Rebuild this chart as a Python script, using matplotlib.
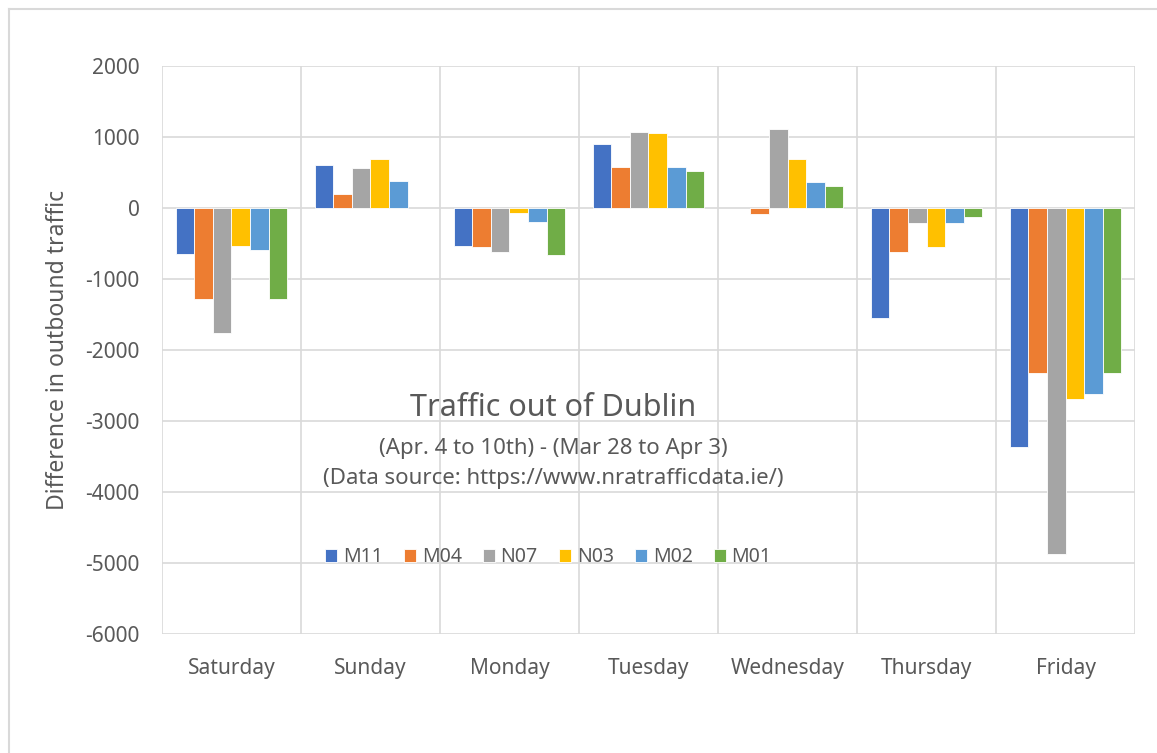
import matplotlib.pyplot as plt
from matplotlib.lines import Line2D
import numpy as np

plt.rcParams['font.family'] = ['Noto Sans', 'DejaVu Sans']
plt.rcParams['axes.unicode_minus'] = False

days = ['Saturday', 'Sunday', 'Monday', 'Tuesday', 'Wednesday', 'Thursday', 'Friday']
roads = ['M11', 'M04', 'N07', 'N03', 'M02', 'M01']
colors = ['#4472C4', '#ED7D31', '#A5A5A5', '#FFC000', '#5B9BD5', '#70AD47']

# difference in outbound traffic, one list per road, Saturday..Friday
m11 = [-640, 603, -533, 908, 0, -1547, -3366]
m04 = [-1275, 204, -552, 580, -82, -622, -2323]
n07 = [-1758, 566, -622, 1073, 1110, -209, -4870]
n03 = [-533, 693, -63, 1054, 693, -552, -2690]
m02 = [-585, 383, -190, 580, 369, -209, -2616]
m01 = [-1275, 0, -660, 528, 313, -120, -2323]
values = [m11, m04, n07, n03, m02, m01]

grey = '#595959'
gridc = '#D9D9D9'

fig = plt.figure(figsize=(11.57, 7.53), dpi=100)
ax = fig.add_axes([0.140, 0.158, 0.841, 0.754])

x = np.arange(len(days))
w = 0.8 / len(roads)
for i in range(len(roads)):
    lw = [0.6 if v != 0 else 0 for v in values[i]]
    ax.bar(x - 0.4 + w * (i + 0.5), values[i], width=w, color=colors[i],
           edgecolor='white', linewidth=lw, label=roads[i], zorder=3)

ax.set_xlim(-0.5, len(days) - 0.5)
ax.set_ylim(-6000, 2000)
ax.set_yticks(np.arange(-6000, 2001, 1000))
ax.set_xticks(x)
ax.set_xticklabels(days)
ax.set_xticks(np.arange(-0.5, len(days)), minor=True)

ax.grid(axis='y', which='major', color=gridc, linewidth=1.2, zorder=0)
ax.grid(axis='x', which='minor', color=gridc, linewidth=1.2, zorder=0)
ax.grid(axis='x', which='major', visible=False)
for s in ax.spines.values():
    s.set_visible(False)

ax.tick_params(axis='both', which='both', length=0, colors=grey, labelsize=15)
ax.tick_params(axis='y', pad=16)
ax.tick_params(axis='x', pad=17)

ax.set_ylabel('Difference in outbound traffic', color=grey, fontsize=16.5)
ax.yaxis.set_label_coords(-0.095, 0.5)

fig.text(0.478, 0.458, 'Traffic out of Dublin', ha='center', va='center',
         fontsize=22, color=grey)
fig.text(0.478, 0.404, '(Apr. 4 to 10th) - (Mar 28 to Apr 3)', ha='center',
         va='center', fontsize=16, color=grey)
fig.text(0.478, 0.364, '(Data source: https://www.nratrafficdata.ie/)',
         ha='center', va='center', fontsize=16, color=grey)

leg = ax.legend(loc='center', bbox_to_anchor=(0.474, 0.260),
                bbox_transform=fig.transFigure, ncol=6, frameon=False,
                fontsize=14, handlelength=0.6, handleheight=0.6,
                handletextpad=0.3, columnspacing=1.1)
for t in leg.get_texts():
    t.set_color(grey)

# chart area border (only top and left visible in the crop)
fig.add_artist(Line2D([9 / 1157, 9 / 1157], [0, 1 - 9 / 753],
                      transform=fig.transFigure, color=gridc, linewidth=1.5))
fig.add_artist(Line2D([9 / 1157, 1], [1 - 9 / 753, 1 - 9 / 753],
                      transform=fig.transFigure, color=gridc, linewidth=1.5))

fig.savefig('out.png', dpi=100)
